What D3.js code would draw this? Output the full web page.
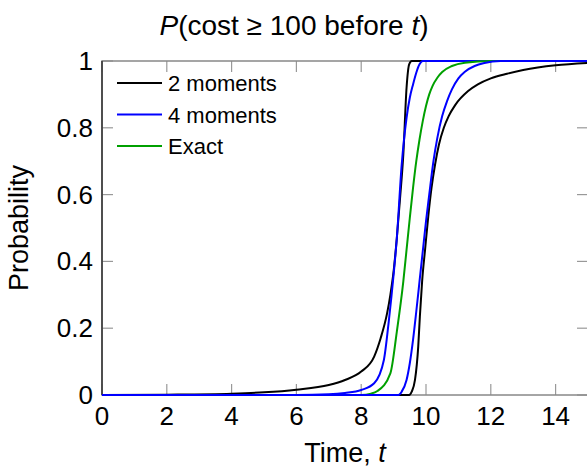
<!DOCTYPE html>
<html>
<head>
<meta charset="utf-8">
<script src="https://cdn.jsdelivr.net/npm/d3@7"></script>
<style>
  body { margin: 0; background: #fff; }
  text { font-family: "Liberation Sans", Arial, sans-serif; fill: #000; }
</style>
</head>
<body>
<div id="chart"></div>
<script>
// [time, probability]
var twoMomentsUpper = [[0, 0], [2, 0.001], [4, 0.004], [5, 0.008], [6, 0.016], [7, 0.03], [7.5, 0.045],
  [8, 0.07], [8.4, 0.115], [8.6, 0.17], [8.8, 0.245], [8.9, 0.3], [9.0, 0.37], [9.1, 0.47], [9.2, 0.59],
  [9.3, 0.72], [9.4, 0.92], [9.48, 0.99], [9.56, 1], [15, 1]];
var twoMomentsLower = [[0, 0], [9.48, 0], [9.56, 0.01], [9.66, 0.045], [9.76, 0.145], [9.81, 0.234],
  [9.88, 0.34], [9.97, 0.434], [10.07, 0.535], [10.17, 0.62], [10.28, 0.69], [10.4, 0.75],
  [10.55, 0.8], [10.7, 0.835], [10.9, 0.868], [11.3, 0.91], [11.6, 0.93], [12, 0.948],
  [12.5, 0.962], [13, 0.973], [14, 0.987], [15, 0.994]];
var fourMomentsUpper = [[0, 0], [6, 0], [7, 0.002], [7.5, 0.006], [8, 0.015], [8.4, 0.035], [8.7, 0.105],
  [8.85, 0.22], [9.0, 0.36], [9.1, 0.47], [9.25, 0.69], [9.4, 0.83], [9.5, 0.89], [9.6, 0.93],
  [9.7, 0.965], [9.8, 0.99], [9.9, 1], [15, 1]];
var fourMomentsLower = [[0, 0], [9.15, 0], [9.25, 0.01], [9.4, 0.045], [9.5, 0.095], [9.6, 0.165],
  [9.7, 0.25], [9.8, 0.34], [9.9, 0.43], [10.0, 0.52], [10.1, 0.6], [10.23, 0.7], [10.35, 0.77],
  [10.5, 0.835], [10.65, 0.88], [10.8, 0.915], [11.0, 0.948], [11.2, 0.968], [11.5, 0.985],
  [11.8, 0.994], [12.3, 1], [15, 1]];
var exact = [[0, 0], [8, 0], [8.3, 0.004], [8.5, 0.012], [8.9, 0.065], [9.1, 0.19], [9.3, 0.34],
  [9.4, 0.435], [9.5, 0.53], [9.6, 0.62], [9.7, 0.7], [9.8, 0.765], [9.9, 0.82], [10.0, 0.865],
  [10.1, 0.9], [10.2, 0.925], [10.35, 0.95], [10.5, 0.967], [10.8, 0.985], [11.2, 0.995], [12, 1], [15, 1]];

var xTicks = [0, 2, 4, 6, 8, 10, 12, 14];
var yTicks = [0, 0.2, 0.4, 0.6, 0.8, 1];
var legendNames = ['2 moments', '4 moments', 'Exact'];

var width = 587,
    height = 468,
    margin = { left: 102, right: -1, top: 61, bottom: 73 };

var chartWidth = width - margin.left - margin.right;
var chartHeight = height - margin.top - margin.bottom;

var black = '#000', blue = '#0000ff', green = '#00a000';

// Drawing order matters where the curves share the 0 and 1 lines
var series = [
  { data: twoMomentsUpper, color: black },
  { data: twoMomentsLower, color: black },
  { data: fourMomentsUpper, color: blue },
  { data: exact, color: green },
  { data: fourMomentsLower, color: blue }
];
var legendColors = [black, blue, green];

var xScale = d3.scaleLinear().domain([0, 15]).range([0, chartWidth]);
var yScale = d3.scaleLinear().domain([0, 1]).range([chartHeight, 0]);

var svg = d3.select('#chart').append('svg')
    .attr('width', width)
    .attr('height', height);

var g = svg.append('g')
    .attr('transform', 'translate(' + margin.left + ',' + margin.top + ')');

// Inward grey ticks on all four sides
var tickLen = 11, tickColor = '#999';
g.selectAll('line.xtick').data(xTicks).enter().append('line')
    .attr('x1', d => xScale(d)).attr('x2', d => xScale(d))
    .attr('y1', chartHeight).attr('y2', chartHeight - tickLen)
    .attr('stroke', tickColor).attr('stroke-width', 1.2);
g.selectAll('line.xtickTop').data(xTicks).enter().append('line')
    .attr('x1', d => xScale(d)).attr('x2', d => xScale(d))
    .attr('y1', 0).attr('y2', tickLen)
    .attr('stroke', tickColor).attr('stroke-width', 1.2);
g.selectAll('line.ytick').data(yTicks).enter().append('line')
    .attr('x1', 0).attr('x2', tickLen)
    .attr('y1', d => yScale(d)).attr('y2', d => yScale(d))
    .attr('stroke', tickColor).attr('stroke-width', 1.2);
g.selectAll('line.ytickRight').data(yTicks).enter().append('line')
    .attr('x1', chartWidth).attr('x2', chartWidth - tickLen)
    .attr('y1', d => yScale(d)).attr('y2', d => yScale(d))
    .attr('stroke', tickColor).attr('stroke-width', 1.2);

// Frame
g.append('rect')
    .attr('x', 0).attr('y', 0)
    .attr('width', chartWidth).attr('height', chartHeight)
    .attr('fill', 'none').attr('stroke', '#888').attr('stroke-width', 1.5);
g.append('line')
    .attr('x1', 0).attr('x2', 0).attr('y1', 0).attr('y2', chartHeight)
    .attr('stroke', '#333').attr('stroke-width', 1.5);

// Tick labels
g.selectAll('text.xlabel').data(xTicks).enter().append('text')
    .attr('x', d => xScale(d))
    .attr('y', chartHeight + 30)
    .attr('text-anchor', 'middle')
    .attr('font-size', 26)
    .text(d => d);
g.selectAll('text.ylabel').data(yTicks).enter().append('text')
    .attr('x', -9)
    .attr('y', d => yScale(d) + 9)
    .attr('text-anchor', 'end')
    .attr('font-size', 26)
    .text(d => d);

// Curves
var line = d3.line()
    .x(d => xScale(d[0]))
    .y(d => yScale(d[1]))
    .curve(d3.curveMonotoneX);

g.selectAll('path.curve').data(series).enter().append('path')
    .attr('class', 'curve')
    .attr('d', d => line(d.data))
    .attr('fill', 'none')
    .attr('stroke', d => d.color)
    .attr('stroke-width', 2);

// Legend
var legend = g.selectAll('g.legend').data(legendNames).enter().append('g')
    .attr('transform', (d, i) => 'translate(15,' + (22 + i * 31.5) + ')');
legend.append('line')
    .attr('x1', 0).attr('x2', 45)
    .attr('stroke', (d, i) => legendColors[i]).attr('stroke-width', 2);
legend.append('text')
    .attr('x', 51).attr('y', 8)
    .attr('font-size', 22)
    .text(d => d);

// Titles
var title = svg.append('text')
    .attr('x', 294).attr('y', 35)
    .attr('text-anchor', 'middle')
    .attr('font-size', 28);
title.append('tspan').attr('font-style', 'italic').text('P');
title.append('tspan').text('(cost \u2265 100 before ');
title.append('tspan').attr('font-style', 'italic').text('t');
title.append('tspan').text(')');

var xTitle = svg.append('text')
    .attr('x', margin.left + chartWidth / 2).attr('y', 462)
    .attr('text-anchor', 'middle')
    .attr('font-size', 27);
xTitle.append('tspan').text('Time, ');
xTitle.append('tspan').attr('font-style', 'italic').text('t');

svg.append('text')
    .attr('transform', 'translate(28,' + (margin.top + chartHeight / 2) + ') rotate(-90)')
    .attr('text-anchor', 'middle')
    .attr('font-size', 27)
    .text('Probability');
</script>
</body>
</html>
